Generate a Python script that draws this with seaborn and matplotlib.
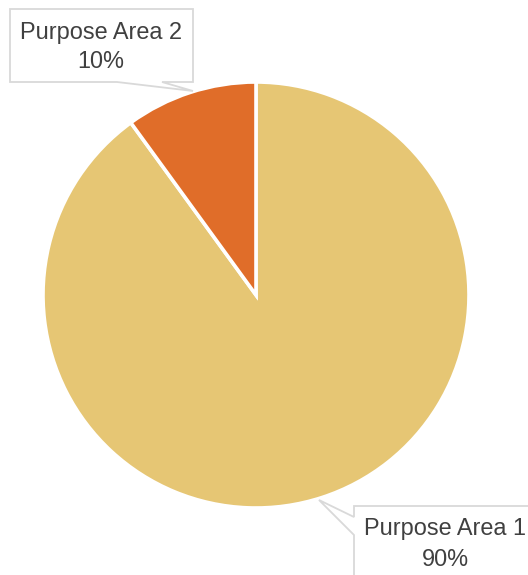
import matplotlib
matplotlib.use("Agg")
import matplotlib.pyplot as plt
import seaborn as sns
from matplotlib.patches import Polygon
from matplotlib.transforms import Affine2D

labels = ["Purpose Area 1", "Purpose Area 2"]
values = [90, 10]
colors = ["#E6C674", "#E06D29"]

sns.set_theme(style="white")
plt.rcParams['font.family'] = ['Liberation Sans', 'DejaVu Sans']

W, H = 528, 575
fig = plt.figure(figsize=(W / 100, H / 100), dpi=100)
fig.patch.set_facecolor("white")

cx, cy, r = 256, 295, 213
ax = fig.add_axes([(cx - r) / W, (H - cy - r) / H, 2 * r / W, 2 * r / H])
ax.pie(values, colors=colors, startangle=90, counterclock=False, radius=1,
       wedgeprops=dict(edgecolor="white", linewidth=2.6))
ax.set_xlim(-1, 1)
ax.set_ylim(-1, 1)
ax.set_aspect("equal")
ax.axis("off")

# pixel transform with top-left origin
pix = Affine2D().scale(1 / W, -1 / H).translate(0, 1) + fig.transFigure

box1 = [(10, 9), (193, 9), (193, 82), (162, 82), (193, 91), (117, 82), (10, 82)]
box2 = [(354, 506), (540, 506), (540, 590), (354, 590), (354, 535), (319, 500), (354, 517)]
for pts in (box1, box2):
    fig.patches.append(Polygon(pts, closed=True, transform=pix, facecolor="white",
                               edgecolor="#D9D9D9", linewidth=1.3, zorder=5))

fs = 16.9
fig.text(101 / W, 1 - 32 / H, f"{labels[1]}", transform=fig.transFigure,
         ha="center", va="center", fontsize=fs, color="#404040", zorder=6)
fig.text(101 / W, 1 - 62 / H, f"{values[1]}%", transform=fig.transFigure,
         ha="center", va="center", fontsize=fs, color="#404040", zorder=6)
fig.text(445 / W, 1 - 528 / H, f"{labels[0]}", transform=fig.transFigure,
         ha="center", va="center", fontsize=fs, color="#404040", zorder=6)
fig.text(445 / W, 1 - 559 / H, f"{values[0]}%", transform=fig.transFigure,
         ha="center", va="center", fontsize=fs, color="#404040", zorder=6)

fig.savefig("out.png", dpi=100)
